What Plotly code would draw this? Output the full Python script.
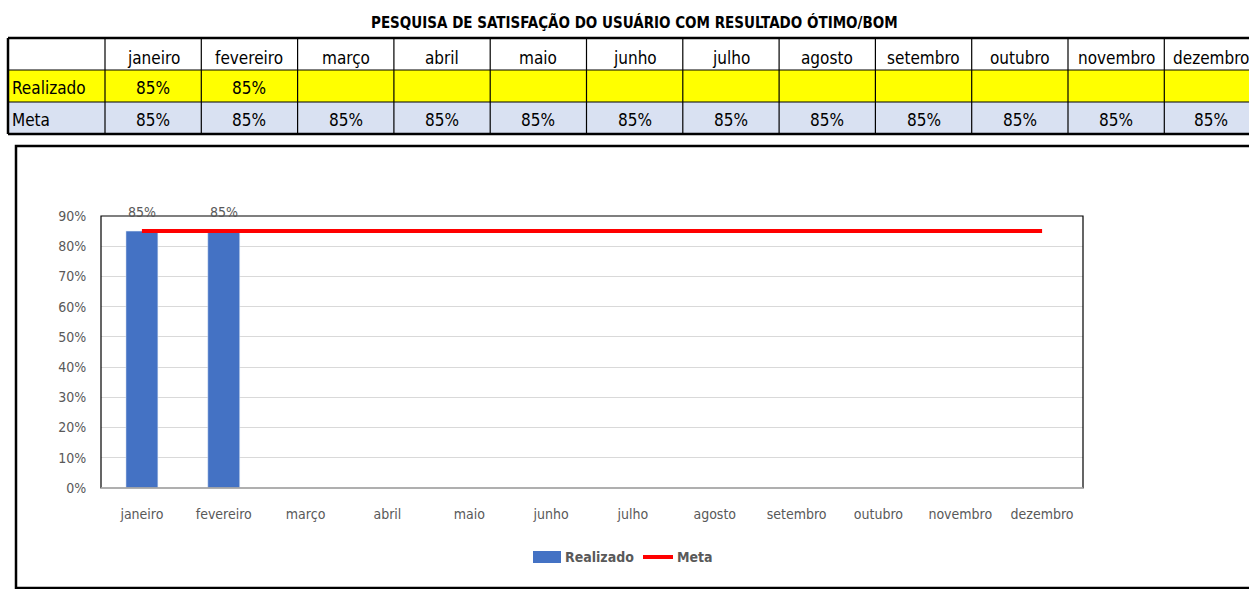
import plotly.graph_objects as go

# ---- data ----
months = ["janeiro", "fevereiro", "março", "abril", "maio", "junho", "julho",
          "agosto", "setembro", "outubro", "novembro", "dezembro"]
realizado = [0.85, 0.85, None, None, None, None, None, None, None, None, None, None]
meta = [0.85] * 12
row_labels = ["Realizado", "Meta"]
title_text = "PESQUISA DE SATISFAÇÃO DO USUÁRIO COM RESULTADO ÓTIMO/BOM"

W, H = 1249, 589
PL, PR, PT, PB = 101, 1083, 216, 488  # plot area in pixels
FONT = "Liberation Sans Narrow, Arial Narrow, DejaVu Sans Condensed, sans-serif"
GRAY = "#595959"


def px(x):
    return (x - PL) / (PR - PL)


def py(y):
    return (PB - y) / (PB - PT)


fig = go.Figure()
fig.add_trace(go.Bar(
    x=months, y=realizado, name="Realizado", marker_color="#4472C4",
    width=0.39, showlegend=False,
))
fig.add_trace(go.Scatter(
    x=months, y=meta, name="Meta", mode="lines",
    line=dict(color="#FF0000", width=4), showlegend=False,
))

shapes = []
annotations = []

# ---- data labels ----
for m, v in zip(months, realizado):
    if v is not None:
        annotations.append(dict(x=m, y=v, xref="x", yref="y", text=f"{v:.0%}",
                                showarrow=False, yshift=19, yanchor="middle",
                                font=dict(size=14, color=GRAY, family=FONT)))

# ---- title ----
annotations.append(dict(
    x=px(634), y=py(22), xref="paper", yref="paper", text="<b>" + title_text + "</b>",
    showarrow=False, font=dict(size=15, color="black", family=FONT),
    xanchor="center", yanchor="middle"))

# ---- table ----
col_x = [8, 105] + [105 + 96.3 * (i + 1) for i in range(12)]
row_y = [38, 70, 102, 134]
row_fill = ["#FFFFFF", "#FFFF00", "#D9E1F2"]
for r in range(3):
    shapes.append(dict(type="rect", xref="paper", yref="paper",
                       x0=px(col_x[0]), x1=px(W + 20), y0=py(row_y[r]), y1=py(row_y[r + 1]),
                       fillcolor=row_fill[r], line=dict(width=0), layer="below"))
for i, yy in enumerate(row_y):
    lw = 2.5 if i in (0, 3) else 1.2
    shapes.append(dict(type="line", xref="paper", yref="paper",
                       x0=px(col_x[0]), x1=px(W + 20), y0=py(yy), y1=py(yy),
                       line=dict(color="black", width=lw)))
for i, xx in enumerate(col_x):
    lw = 2.5 if i == 0 else 1.2
    shapes.append(dict(type="line", xref="paper", yref="paper",
                       x0=px(xx), x1=px(xx), y0=py(row_y[0]), y1=py(row_y[3]),
                       line=dict(color="black", width=lw)))

cell_font = dict(size=17, color="black", family=FONT)
for i, m in enumerate(months):
    cx = (col_x[i + 1] + col_x[i + 2]) / 2
    if i == 11:
        cx = min(cx, 1211)
    annotations.append(dict(x=px(cx), y=py(57.5), xref="paper", yref="paper", text=m,
                            showarrow=False, font=cell_font, xanchor="center", yanchor="middle"))
    if realizado[i] is not None:
        annotations.append(dict(x=px(cx), y=py(88), xref="paper", yref="paper",
                                text=f"{realizado[i]:.0%}", showarrow=False, font=cell_font,
                                xanchor="center", yanchor="middle"))
    annotations.append(dict(x=px(cx), y=py(120), xref="paper", yref="paper",
                            text=f"{meta[i]:.0%}", showarrow=False, font=cell_font,
                            xanchor="center", yanchor="middle"))
for r, lab in enumerate(row_labels):
    annotations.append(dict(x=px(10), y=py(88 + 32 * r), xref="paper", yref="paper", text=lab,
                            showarrow=False, font=cell_font, xanchor="left", yanchor="middle"))

# ---- chart frame ----
shapes.append(dict(type="rect", xref="paper", yref="paper",
                   x0=px(16), x1=px(W + 20), y0=py(588), y1=py(146),
                   line=dict(color="black", width=2.5), fillcolor="rgba(0,0,0,0)"))
shapes.append(dict(type="rect", xref="paper", yref="paper",
                   x0=0, x1=1, y0=0, y1=1,
                   line=dict(color="black", width=1.2), fillcolor="rgba(0,0,0,0)"))
shapes.append(dict(type="line", xref="paper", yref="paper",
                   x0=0, x1=1, y0=0, y1=0, line=dict(color="#BFBFBF", width=1.5)))

# ---- legend ----
shapes.append(dict(type="rect", xref="paper", yref="paper",
                   x0=px(533), x1=px(561), y0=py(563), y1=py(551),
                   fillcolor="#4472C4", line=dict(width=0)))
annotations.append(dict(x=px(563), y=py(557), xref="paper", yref="paper", text="<b>Realizado</b>",
                        showarrow=False, font=dict(size=14, color=GRAY, family=FONT),
                        xanchor="left", yanchor="middle"))
shapes.append(dict(type="line", xref="paper", yref="paper",
                   x0=px(643), x1=px(673), y0=py(557), y1=py(557),
                   line=dict(color="#FF0000", width=4)))
annotations.append(dict(x=px(675), y=py(557), xref="paper", yref="paper", text="<b>Meta</b>",
                        showarrow=False, font=dict(size=14, color=GRAY, family=FONT),
                        xanchor="left", yanchor="middle"))

fig.update_layout(
    width=W, height=H,
    margin=dict(l=PL, r=W - PR, t=PT, b=H - PB),
    paper_bgcolor="white", plot_bgcolor="white",
    shapes=shapes, annotations=annotations,
    font=dict(family=FONT, color=GRAY, size=14),
)
fig.update_yaxes(range=[0, 0.9], dtick=0.1, tickformat=".0%", gridcolor="#D9D9D9",
                 gridwidth=1, zeroline=False, showline=False, ticks="outside",
                 ticklen=11, tickcolor="rgba(0,0,0,0)", tickfont=dict(size=14, color=GRAY))
fig.update_xaxes(showgrid=False, showline=False, ticks="outside", ticklen=13,
                 tickcolor="rgba(0,0,0,0)", tickfont=dict(size=14, color=GRAY))

fig.write_html("out.html", config={"displayModeBar": False},
               post_script="document.body.style.margin='0';document.body.style.overflow='hidden';")
